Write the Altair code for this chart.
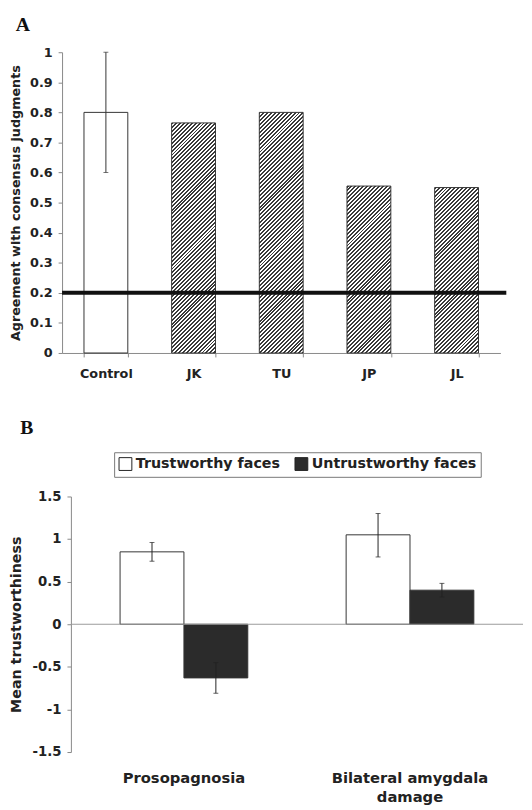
import altair as alt
import pandas as pd

# ---------------- Panel A data ----------------
a_categories = ["Control", "JK", "TU", "JP", "JL"]
a_values = [0.80, 0.765, 0.80, 0.555, 0.55]
a_err_low = [0.60, None, None, None, None]
a_err_high = [1.00, None, None, None, None]
a_chance = [0.2]
a_ticks = [0, 0.1, 0.2, 0.3, 0.4, 0.5, 0.6, 0.7, 0.8, 0.9, 1.0]

# ---------------- Panel B data ----------------
b_groups = ["Prosopagnosia", "Bilateral amygdala damage"]
b_series = ["Trustworthy faces", "Untrustworthy faces"]
b_trust = [0.85, 1.05]
b_trust_low = [0.74, 0.79]
b_trust_high = [0.96, 1.30]
b_untrust = [-0.63, 0.40]
b_untrust_low = [-0.81, 0.32]
b_untrust_high = [-0.45, 0.48]
b_ticks = [-1.5, -1, -0.5, 0, 0.5, 1, 1.5]

FONT = "DejaVu Sans"
SHIFT = 9                 # panel A's axis sits this far left of panel B's
A_SPAN, A_H = 446, 306
A_W = A_SPAN - SHIFT
B_W, B_H = 460, 260

df_a = pd.DataFrame({"category": a_categories, "value": a_values,
                     "low": a_err_low, "high": a_err_high})

rows = []
for i, g in enumerate(b_groups):
    rows.append({"group": g, "series": b_series[0], "value": b_trust[i],
                 "low": b_trust_low[i], "high": b_trust_high[i]})
    rows.append({"group": g, "series": b_series[1], "value": b_untrust[i],
                 "low": b_untrust_low[i], "high": b_untrust_high[i]})
df_b = pd.DataFrame(rows)


def hatch(height_px, width_px, period=4.0, frac=0.5, dark="#3a3a3a", light="#ffffff"):
    """Diagonal '/' stripe texture as a linear gradient in bounding-box units."""
    W, H = width_px, height_px
    total = W + H
    stops = []
    k = 0
    while True:
        o0 = k * period / total
        if o0 >= 1:
            break
        o1 = min((k + frac) * period / total, 1)
        o2 = min((k + 1) * period / total, 1)
        stops += [{"offset": o0, "color": dark}, {"offset": o1, "color": dark},
                  {"offset": o1, "color": light}, {"offset": o2, "color": light}]
        k += 1
    d = total / (W * W + H * H)
    return {"gradient": "linear", "x1": 0, "y1": 0, "x2": W * d, "y2": H * d,
            "stops": stops}


xa = alt.X("category:N", sort=a_categories,
           scale=alt.Scale(domain=a_categories, paddingInner=0.5, paddingOuter=0.25,
                           range=[-SHIFT, A_W]),
           axis=alt.Axis(title=None, labelAngle=0, labelFont=FONT, labelFontWeight="bold",
                         labelFontSize=13, labelColor="#222", domainColor="#888",
                         tickColor="#888", tickBand="extent", tickSize=4, labelPadding=11))
ya_scale = alt.Scale(domain=[0, 1], nice=False)
ya_axis = alt.Axis(title="Agreement with consensus judgments", values=a_ticks, format=".1~f",
                   grid=False, labelOverlap=False, labelFont=FONT, labelFontWeight="bold",
                   labelFontSize=13, labelColor="#222", titleFont=FONT,
                   titleFontWeight="bold", titleFontSize=13, titleColor="#222",
                   domainColor="#888", tickColor="#888", tickSize=4, labelPadding=6,
                   titlePadding=7, offset=SHIFT)

base_a = alt.Chart(df_a)
layers_a = []
bandwidth = A_SPAN / 5 * 0.5
for cat, val in zip(a_categories, a_values):
    if cat == "Control":
        fill = "white"
    else:
        fill = hatch(val * A_H, bandwidth)
    layers_a.append(
        base_a.mark_bar(fill=fill, stroke="#333", strokeWidth=1)
        .transform_filter(alt.datum.category == cat)
        .encode(x=xa, y=alt.Y("value:Q", scale=ya_scale, axis=ya_axis))
    )

err_a = base_a.mark_rule(color="#333", strokeWidth=1).transform_filter(
    "isValid(datum.low)").encode(x=xa, y=alt.Y("low:Q", scale=ya_scale, axis=ya_axis),
                                 y2="high:Q")
cap_lo_a = base_a.mark_tick(color="#333", size=5, thickness=1).transform_filter(
    "isValid(datum.low)").encode(x=xa, y=alt.Y("low:Q", scale=ya_scale, axis=ya_axis))
cap_hi_a = base_a.mark_tick(color="#333", size=5, thickness=1).transform_filter(
    "isValid(datum.high)").encode(x=xa, y=alt.Y("high:Q", scale=ya_scale, axis=ya_axis))
chance = alt.Chart(pd.DataFrame({"chance": a_chance})).mark_rule(
    color="#111", strokeWidth=4).encode(
    y=alt.Y("chance:Q", scale=ya_scale, axis=ya_axis),
    x=alt.value(-SHIFT), x2=alt.value(A_W + 6))

chart_a = alt.layer(*layers_a, err_a, cap_lo_a, cap_hi_a, chance).properties(
    width=A_W, height=A_H,
    title=alt.TitleParams("A", anchor="start", frame="bounds", font="Liberation Serif",
                          fontSize=20, fontWeight="bold", color="#111", offset=12, dx=6))

# ---------------- Panel B ----------------
xb = alt.X("group:N", sort=b_groups,
           scale=alt.Scale(domain=b_groups, paddingInner=0.435, paddingOuter=0.2175),
           axis=alt.Axis(title=None, labelAngle=0, labelFont=FONT, labelFontWeight="bold",
                         labelFontSize=15, labelColor="#222", domain=False, ticks=False,
                         labelPadding=19, labelLineHeight=19,
                         labelExpr="datum.value == 'Bilateral amygdala damage' ? ['Bilateral amygdala', 'damage'] : datum.label"))
xob = alt.XOffset("series:N", sort=b_series,
                  scale=alt.Scale(domain=b_series, paddingInner=0, paddingOuter=0))
yb_scale = alt.Scale(domain=[-1.5, 1.5], nice=False)
yb_axis = alt.Axis(title="Mean trustworthiness", values=b_ticks, grid=False,
                   labelOverlap=False,
                   labelExpr="datum.value < 0 ? '-' + format(-datum.value, '~g') : format(datum.value, '~g')",
                   labelFont=FONT, labelFontWeight="bold", labelFontSize=13.5,
                   labelColor="#222", titleFont=FONT, titleFontWeight="bold",
                   titleFontSize=14.5, titleColor="#222", domainColor="#888",
                   tickColor="#888", tickSize=4, labelPadding=6, titlePadding=9)

base_b = alt.Chart(df_b)
bars_b = base_b.mark_bar(stroke="#333", strokeWidth=1).encode(
    x=xb, xOffset=xob,
    y=alt.Y("value:Q", scale=yb_scale, axis=yb_axis),
    fill=alt.Fill("series:N", sort=b_series,
                  scale=alt.Scale(domain=b_series, range=["#ffffff", "#2b2b2b"]),
                  legend=alt.Legend(title=None, orient="none", direction="horizontal",
                                    legendX=44, legendY=-45, strokeColor="#777",
                                    fillColor="white", padding=4, symbolType="square",
                                    symbolSize=170, symbolStrokeColor="#222",
                                    symbolStrokeWidth=1, labelFont=FONT,
                                    labelFontWeight="bold", labelFontSize=14.5,
                                    labelLimit=0, labelColor="#222", labelOffset=3,
                                    columnPadding=12)))
zero = alt.Chart(pd.DataFrame({"zero": [0]})).mark_rule(color="#999", strokeWidth=1).encode(
    y=alt.Y("zero:Q", scale=yb_scale, axis=yb_axis))
err_b = base_b.mark_rule(color="#222", strokeWidth=1).encode(
    x=xb, xOffset=xob, y=alt.Y("low:Q", scale=yb_scale, axis=yb_axis), y2="high:Q")
cap_lo_b = base_b.mark_tick(color="#222", size=5, thickness=1).encode(
    x=xb, xOffset=xob, y=alt.Y("low:Q", scale=yb_scale, axis=yb_axis))
cap_hi_b = base_b.mark_tick(color="#222", size=5, thickness=1).encode(
    x=xb, xOffset=xob, y=alt.Y("high:Q", scale=yb_scale, axis=yb_axis))

chart_b = alt.layer(bars_b, zero, err_b, cap_lo_b, cap_hi_b).properties(
    width=B_W, height=B_H,
    title=alt.TitleParams("B", anchor="start", frame="bounds", font="Liberation Serif",
                          fontSize=20, fontWeight="bold", color="#111", offset=14, dx=12))

chart = alt.concat(chart_a, chart_b, columns=1, spacing=38).resolve_scale(
    fill="independent").resolve_legend(fill="independent").properties(
    padding=0).configure_view(stroke=None)

chart.save("out.html", embed_options={"renderer": "svg", "actions": False})
